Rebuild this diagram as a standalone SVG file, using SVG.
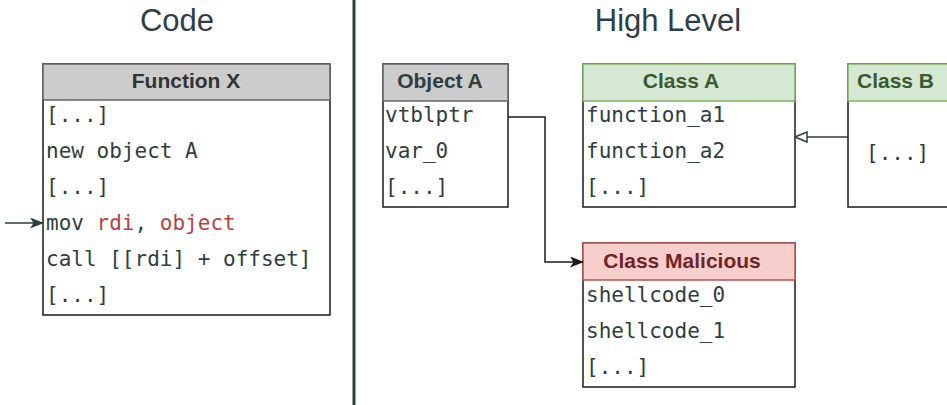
<svg xmlns="http://www.w3.org/2000/svg" width="947" height="405" viewBox="0 0 947 405">
  <style>
    .title { font-family: "Liberation Sans", Arial, sans-serif; font-size: 31px; fill: #2f3e46; text-anchor: middle; }
    .head { font-family: "Liberation Sans", Arial, sans-serif; font-size: 21px; font-weight: bold; text-anchor: middle; }
    .mono { font-family: "DejaVu Sans Mono", "Liberation Mono", monospace; font-size: 21px; fill: #2f3e3e; }
    .red { fill: #b5443f; }
    .body { fill: #ffffff; stroke: #1a1a1a; stroke-width: 1.5; }
    .gray { fill: #cccccc; stroke: #666666; stroke-width: 1.5; }
    .green { fill: #d5e8d4; stroke: #82b366; stroke-width: 1.5; }
    .pink { fill: #f8cecc; stroke: #b85450; stroke-width: 1.5; }
    .edge { fill: none; stroke: #1a1a1a; stroke-width: 1.5; }
  </style>
  <defs>
    <marker id="arrow" viewBox="0 0 14 11" refX="13" refY="5.5" markerWidth="14" markerHeight="11" markerUnits="userSpaceOnUse" orient="auto">
      <path d="M0,0 L14,5.5 L0,11 L3.5,5.5 Z" fill="#1a1a1a"/>
    </marker>
    <marker id="arrowDark" viewBox="0 0 14 11" refX="13" refY="5.5" markerWidth="14" markerHeight="11" markerUnits="userSpaceOnUse" orient="auto">
      <path d="M0,0 L14,5.5 L0,11 L3.5,5.5 Z" fill="#2f3e3e"/>
    </marker>
    <marker id="hollow" viewBox="0 0 14 12" refX="13" refY="6" markerWidth="14" markerHeight="12" markerUnits="userSpaceOnUse" orient="auto">
      <path d="M1,1 L13,6 L1,11 Z" fill="#ffffff" stroke="#2f3e3e" stroke-width="1.5"/>
    </marker>
  </defs>

  <!-- section titles and divider -->
  <text class="title" x="177" y="31">Code</text>
  <text class="title" x="668" y="31">High Level</text>
  <line x1="354" y1="0" x2="354" y2="405" stroke="#2f3e3e" stroke-width="3"/>

  <!-- Function X -->
  <g id="function-x">
    <rect class="body" x="43" y="64" width="287" height="251"/>
    <rect class="gray" x="43" y="64" width="287" height="36"/>
    <text class="head" x="186" y="88" fill="#333333">Function X</text>
    <text class="mono" x="46" y="122">[...]</text>
    <text class="mono" x="46" y="158">new object A</text>
    <text class="mono" x="46" y="194">[...]</text>
    <text class="mono" x="46" y="230">mov <tspan class="red">rdi</tspan>, <tspan class="red">object</tspan></text>
    <text class="mono" x="46" y="266">call [[rdi] + offset]</text>
    <text class="mono" x="46" y="302">[...]</text>
  </g>

  <!-- Object A -->
  <g id="object-a">
    <rect class="body" x="383" y="64" width="125" height="143"/>
    <rect class="gray" x="383" y="64" width="125" height="37"/>
    <text class="head" x="440" y="88" fill="#2f3e3e">Object A</text>
    <text class="mono" x="385" y="122">vtblptr</text>
    <text class="mono" x="385" y="158">var_0</text>
    <text class="mono" x="385" y="194">[...]</text>
  </g>

  <!-- Class A -->
  <g id="class-a">
    <rect class="body" x="583" y="64" width="212" height="143"/>
    <rect class="green" x="583" y="64" width="212" height="37"/>
    <text class="head" x="681" y="88" fill="#3b5a2e">Class A</text>
    <text class="mono" x="586" y="122">function_a1</text>
    <text class="mono" x="586" y="158">function_a2</text>
    <text class="mono" x="586" y="194">[...]</text>
  </g>

  <!-- Class B -->
  <g id="class-b">
    <rect class="body" x="848" y="64" width="110" height="143"/>
    <rect class="green" x="848" y="64" width="110" height="37"/>
    <text class="head" x="857" y="88" fill="#3b5a2e" style="text-anchor:start">Class B</text>
    <text class="mono" x="866" y="160">[...]</text>
  </g>

  <!-- Class Malicious -->
  <g id="class-malicious">
    <rect class="body" x="583" y="243" width="212" height="144"/>
    <rect class="pink" x="583" y="243" width="212" height="37"/>
    <text class="head" x="682" y="268" fill="#6f2525">Class Malicious</text>
    <text class="mono" x="586" y="302">shellcode_0</text>
    <text class="mono" x="586" y="338">shellcode_1</text>
    <text class="mono" x="586" y="374">[...]</text>
  </g>

  <!-- connectors -->
  <g id="connectors">
    <line class="edge" x1="5" y1="223" x2="43" y2="223" style="stroke:#2f3e3e" marker-end="url(#arrowDark)"/>
    <polyline class="edge" points="508,117 545,117 545,262 583,262" marker-end="url(#arrow)"/>
    <line class="edge" x1="848" y1="137" x2="795" y2="137" style="stroke:#2f3e3e" marker-end="url(#hollow)"/>
  </g>
</svg>
